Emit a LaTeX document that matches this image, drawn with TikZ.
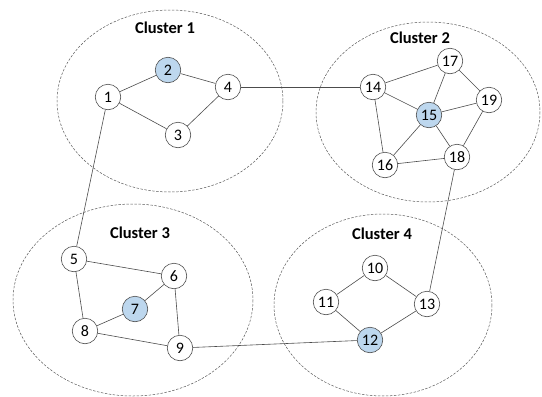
\documentclass[tikz,border=0pt]{standalone}
\usepackage{fontspec}
\setmainfont{Carlito}
\begin{document}
\begin{tikzpicture}[x=1pt,y=-1pt,
  vert/.style={circle,draw=black!70,line width=0.6pt,fill=white,minimum size=25.5pt,inner sep=0pt,font=\fontsize{16}{16}\selectfont},
  hub/.style={vert,fill={rgb,255:red,189;green,215;blue,238}},
  edge/.style={draw=black!70,line width=0.6pt},
  clus/.style={draw=black!65,dashed,dash pattern=on 2.5pt off 1.5pt,line width=0.5pt},
  clab/.style={font=\bfseries\fontsize{16.5}{16.5}\selectfont}]
\useasboundingbox (0,0) rectangle (542,397);
% clusters
\draw[clus] (170,101) ellipse [x radius=113, y radius=91];
\draw[clus] (428,112) ellipse [x radius=112, y radius=90];
\draw[clus] (133,300) ellipse [x radius=120, y radius=96];
\draw[clus] (383,305) ellipse [x radius=109, y radius=91];
\node[clab] (c1) at (165,28) {Cluster 1};
\node[clab] (c2) at (420,38) {Cluster 2};
\node[clab] (c3) at (140,233) {Cluster 3};
\node[clab] (c4) at (382,234) {Cluster 4};
% nodes
\node[vert] (n1) at (108,97) {1};
\node[hub]  (n2) at (168,70) {2};
\node[vert] (n3) at (178,135) {3};
\node[vert] (n4) at (228,87) {4};
\node[vert] (n5) at (74,259) {5};
\node[vert] (n6) at (174,276) {6};
\node[hub]  (n7) at (135,309) {7};
\node[vert] (n8) at (85,331) {8};
\node[vert] (n9) at (180,348) {9};
\node[vert] (n10) at (375,268) {10};
\node[vert] (n11) at (326,302) {11};
\node[hub]  (n12) at (370,340) {12};
\node[vert] (n13) at (427,304) {13};
\node[vert] (n14) at (373,87) {14};
\node[hub]  (n15) at (429,115) {15};
\node[vert] (n16) at (385,165) {16};
\node[vert] (n17) at (450,61) {17};
\node[vert] (n18) at (457,157) {18};
\node[vert] (n19) at (489,100) {19};
% edges
\foreach \a/\b in {1/2,2/4,1/3,3/4,4/14,1/5,14/17,14/15,14/16,17/15,17/19,15/19,15/16,15/18,19/18,16/18,18/13,5/6,5/8,6/7,7/8,6/9,8/9,9/12,10/11,10/13,11/12,12/13}
  \draw[edge] (n\a) -- (n\b);
\end{tikzpicture}
\end{document}
